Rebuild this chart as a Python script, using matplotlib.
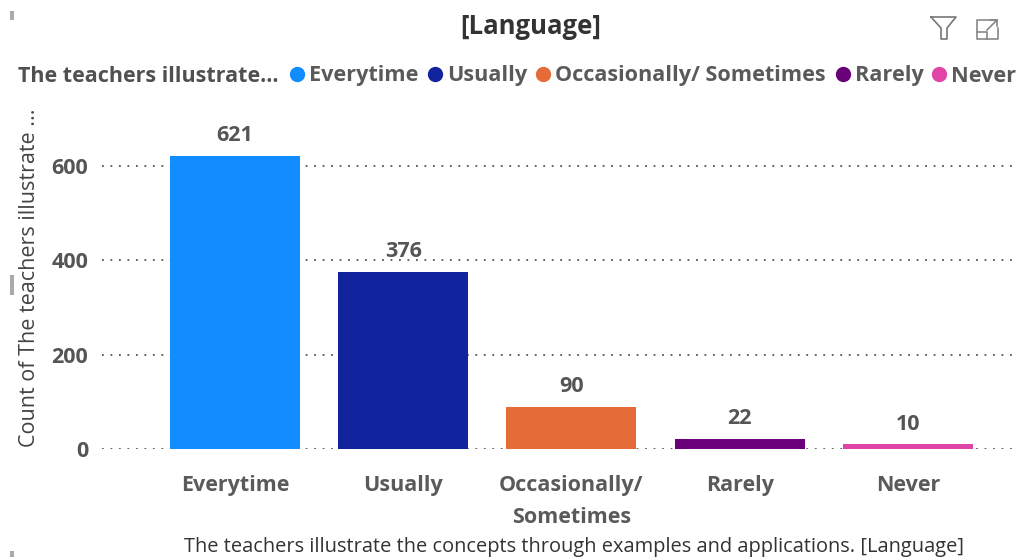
import matplotlib
matplotlib.use('Agg')
import matplotlib.pyplot as plt
from matplotlib.lines import Line2D
from matplotlib.patches import Rectangle

plt.rcParams['font.family'] = ['Open Sans', 'DejaVu Sans']

categories = ['Everytime', 'Usually', 'Occasionally/\nSometimes', 'Rarely', 'Never']
legend_names = ['Everytime', 'Usually', 'Occasionally/ Sometimes', 'Rarely', 'Never']
values = [621, 376, 90, 22, 10]
colors = ['#118DFF', '#12239E', '#E66C37', '#6B007B', '#E044A7']
yticks = [0, 200, 400, 600]

W, H = 1019, 560
fig = plt.figure(figsize=(W/100, H/100), dpi=100)
ax = fig.add_axes([102/W, 1-449/H, (1017-102)/W, (449-120)/H])

ax.bar(range(5), values, width=0.773, color=colors, zorder=3)
ax.set_xlim(-0.79, 4.648)
# 0 at y=449, 600 at y=166
ax.set_ylim(0, 329*600/283)
ax.set_yticks(yticks)
ax.set_xticks(range(5))
ax.set_xticklabels(categories, fontsize=15.5, fontweight='bold', color='#5a5a5a', linespacing=1.68)
ax.tick_params(axis='both', length=0)
ax.tick_params(axis='x', pad=19)
ax.tick_params(axis='y', pad=10, labelsize=15.5, labelcolor='#555555')
for t in ax.get_yticklabels():
    t.set_fontweight('bold')
ax.grid(axis='y', color='#555555', linestyle=(0, (1, 3.7)), linewidth=1.3, zorder=0)
ax.set_axisbelow(True)
for s in ax.spines.values():
    s.set_visible(False)

for i, v in enumerate(values):
    ax.annotate(str(v), (i, v), xytext=(0, 7), textcoords='offset points', ha='center', va='bottom',
                fontsize=15.5, fontweight='bold', color='#555555')

fig.text(30/W, 1-278/H, 'Count of The teachers illustrate ...', rotation=90, ha='center', va='center',
         fontsize=15.5, color='#444444')
fig.text(531/W, 1-26/H, '[Language]', ha='center', va='center', fontsize=18.5, fontweight='bold', color='#333333')
fig.text(18/W, 1-77/H, 'The teachers illustrate...', ha='left', va='center', fontsize=15.5,
         fontweight='bold', color='#505050')
fig.text(574.5/W, 1-547/H, 'The teachers illustrate the concepts through examples and applications. [Language]',
         ha='center', va='center', fontsize=14.4, color='#333333')

# legend entries
legend_x = [297, 435, 543, 843, 939]
for x, name, c in zip(legend_x, legend_names, colors):
    fig.add_artist(Line2D([x/W], [1-74/H], marker='o', markersize=10, color=c, transform=fig.transFigure))
    fig.text((x+12)/W, 1-76/H, name, ha='left', va='center', fontsize=15.6, fontweight='bold', color='#5a5a5a')

# filter and focus icons
fig.add_artist(Line2D([931/W, 956/W, 947/W, 947/W, 941/W, 941/W, 931/W],
                      [1-17/H, 1-17/H, 1-28/H, 1-39/H, 1-39/H, 1-28/H, 1-17/H],
                      color='#777777', lw=1.2, transform=fig.transFigure))
fig.add_artist(Line2D([990/W, 977/W, 977/W, 998/W, 998/W],
                      [1-20/H, 1-20/H, 1-39/H, 1-39/H, 1-28/H],
                      color='#888888', lw=1.2, transform=fig.transFigure))
fig.add_artist(Line2D([977/W, 987/W, 987/W], [1-32/H, 1-32/H, 1-39/H], color='#888888', lw=1.2, transform=fig.transFigure))
fig.add_artist(Line2D([987/W, 997/W, 991/W, 997/W, 997/W], [1-30/H, 1-20/H, 1-20/H, 1-20/H, 1-26/H],
                      color='#888888', lw=1.2, transform=fig.transFigure))

# small grey handles on the left edge of the visual
for y0, h in [(11, 9), (275, 20), (551, 6)]:
    fig.add_artist(Rectangle((10/W, 1-(y0+h)/H), 4/W, h/H, color='#aaaaaa', lw=0, transform=fig.transFigure))

fig.savefig('out.png', dpi=100)
